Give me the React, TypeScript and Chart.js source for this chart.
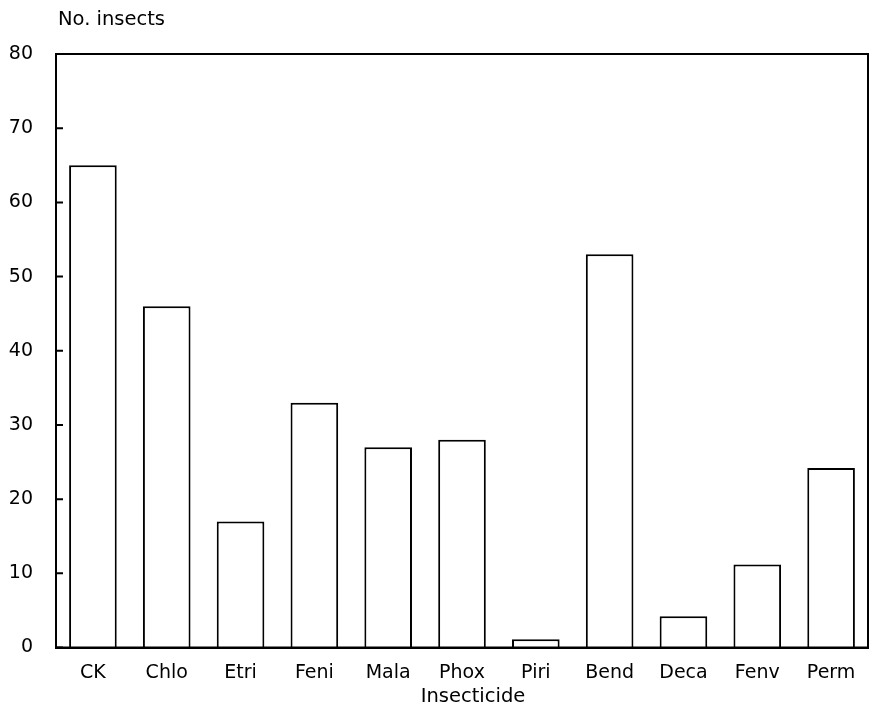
import React, { useEffect, useRef } from 'react';
import { Chart, registerables } from 'chart.js';

Chart.register(...registerables);

const categories = ['CK', 'Chlo', 'Etri', 'Feni', 'Mala', 'Phox', 'Piri', 'Bend', 'Deca', 'Fenv', 'Perm'];
const insectCounts = [65, 46, 17, 33, 27, 28, 1.1, 53, 4.2, 11.2, 24.2];
const yAxisTitle = 'No. insects';
const xAxisTitle = 'Insecticide';

const FONT = "'DejaVu Sans', sans-serif";

const framePlugin = {
  id: 'frame',
  afterDraw(chart: any) {
    const { ctx, chartArea, scales } = chart;
    const { left, right, top, bottom } = chartArea;
    const y = scales.y;
    ctx.save();
    ctx.strokeStyle = '#000';
    ctx.lineWidth = 2;
    ctx.strokeRect(left, top, right - left, bottom - top);
    ctx.beginPath();
    y.ticks.forEach((t: any) => {
      const py = y.getPixelForValue(t.value);
      ctx.moveTo(left, py);
      ctx.lineTo(left + 7, py);
    });
    ctx.stroke();
    ctx.fillStyle = '#000';
    ctx.font = `19.5px ${FONT}`;
    ctx.textBaseline = 'middle';
    ctx.textAlign = 'left';
    ctx.fillText(yAxisTitle, left + 2, 20);
    ctx.textAlign = 'center';
    ctx.fillText(xAxisTitle, (left + right) / 2 + 11, 697);
    ctx.restore();
  },
};

export default function App() {
  const ref = useRef<HTMLCanvasElement | null>(null);

  useEffect(() => {
    document.body.style.margin = '0';
    const canvas = ref.current;
    if (!canvas) return;
    const chart = new Chart(canvas, {
      type: 'bar',
      data: {
        labels: categories,
        datasets: [
          {
            data: insectCounts,
            backgroundColor: '#fff',
            borderColor: '#000',
            borderWidth: 2,
            barPercentage: 0.645,
            categoryPercentage: 1,
          },
        ],
      },
      options: {
        animation: false,
        responsive: false,
        maintainAspectRatio: false,
        layout: { padding: { top: 54, right: 2, left: 0, bottom: 0 } },
        plugins: {
          legend: { display: false },
          tooltip: { enabled: false },
          title: { display: false },
        },
        scales: {
          x: {
            grid: { display: false, drawTicks: false },
            border: { display: true, color: '#000', width: 2 },
            ticks: { color: '#000', font: { family: FONT, size: 19 }, padding: 14, maxRotation: 0 },
            title: { display: false, text: xAxisTitle },
            afterFit: (scale: any) => {
              scale.height = 60.5;
            },
          },
          y: {
            min: 0,
            max: 80,
            ticks: { stepSize: 10, color: '#000', font: { family: FONT, size: 19 }, padding: 23 },
            grid: { display: false, drawTicks: false },
            border: { display: true, color: '#000', width: 2 },
            afterFit: (scale: any) => {
              scale.width = 56;
            },
          },
        },
      },
      plugins: [framePlugin],
    });
    return () => chart.destroy();
  }, []);

  return (
    <div style={{ width: 870, height: 708, background: '#fff' }}>
      <canvas ref={ref} width={870} height={708} style={{ width: 870, height: 708, display: 'block' }} />
    </div>
  );
}
